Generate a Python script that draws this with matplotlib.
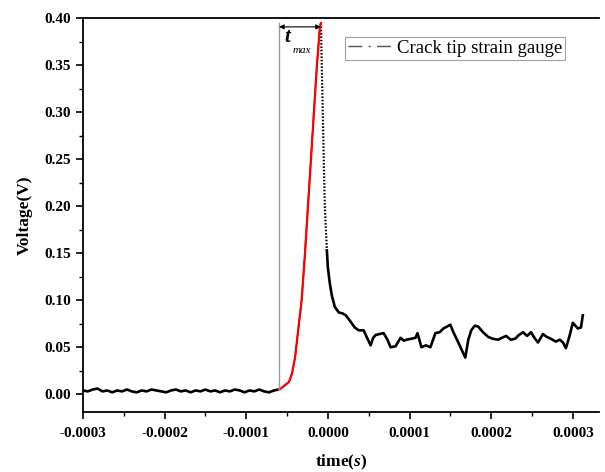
# crack tip strain gauge signal
import numpy as np
import matplotlib
matplotlib.use("Agg")
import matplotlib.pyplot as plt
from matplotlib.lines import Line2D
from matplotlib.ticker import MultipleLocator, FormatStrFormatter

plt.rcParams['font.family'] = ['Liberation Serif', 'DejaVu Serif']
plt.rcParams['mathtext.fontset'] = 'custom'
plt.rcParams['mathtext.it'] = 'Liberation Serif:italic:bold'
plt.rcParams['mathtext.rm'] = 'Liberation Serif:bold'

# time in units of 1e-4 s, voltage in V
base_time = [-3.00, -2.94, -2.88, -2.82, -2.76, -2.70, -2.64, -2.58, -2.52, -2.46,
             -2.40, -2.34, -2.28, -2.22, -2.16, -2.10, -2.04, -1.98, -1.92, -1.86,
             -1.80, -1.74, -1.68, -1.62, -1.56, -1.50, -1.44, -1.38, -1.32, -1.26,
             -1.20, -1.14, -1.08, -1.02, -0.96, -0.90, -0.84, -0.78, -0.72, -0.66,
             -0.60]
base_volt = [0.004, 0.003, 0.005, 0.006, 0.003, 0.004, 0.002, 0.004, 0.003, 0.005,
             0.003, 0.002, 0.004, 0.003, 0.005, 0.004, 0.003, 0.002, 0.004, 0.005,
             0.003, 0.004, 0.002, 0.004, 0.003, 0.005, 0.003, 0.004, 0.002, 0.004,
             0.003, 0.005, 0.004, 0.002, 0.004, 0.003, 0.005, 0.003, 0.002, 0.004,
             0.005]

rise_time = [-0.60, -0.577, -0.52, -0.476, -0.439, -0.402, -0.378, -0.345, -0.321,
             -0.280, -0.244, -0.207, -0.171, -0.134, -0.098, -0.085]
rise_volt = [0.005, 0.006, 0.010, 0.013, 0.022, 0.039, 0.057, 0.082, 0.100,
             0.150, 0.200, 0.250, 0.300, 0.350, 0.390, 0.395]

fall_time = [-0.085, -0.079, -0.073, -0.067, -0.061, -0.055, -0.049, -0.043, -0.037,
             -0.027, -0.018, -0.012, 0.000, 0.024, 0.049, 0.085, 0.134, 0.180, 0.220,
             0.280, 0.330, 0.378, 0.439, 0.480, 0.524, 0.555, 0.585, 0.630, 0.683,
             0.730, 0.768, 0.829, 0.890, 0.930, 0.963, 1.020, 1.073, 1.098, 1.146,
             1.200, 1.256, 1.317, 1.370, 1.415, 1.460, 1.500, 1.537, 1.598, 1.640,
             1.683, 1.720, 1.756, 1.800, 1.841, 1.900, 1.963, 2.020, 2.085, 2.130,
             2.183, 2.240, 2.293, 2.340, 2.390, 2.440, 2.488, 2.530, 2.573, 2.634,
             2.680, 2.732, 2.790, 2.841, 2.880, 2.915, 2.960, 3.000, 3.061, 3.100,
             3.122]
fall_volt = [0.395, 0.370, 0.345, 0.320, 0.295, 0.270, 0.245, 0.222, 0.200,
             0.180, 0.165, 0.153, 0.135, 0.118, 0.105, 0.093, 0.087, 0.086, 0.084,
             0.077, 0.071, 0.068, 0.068, 0.060, 0.052, 0.060, 0.063, 0.064, 0.065,
             0.058, 0.050, 0.051, 0.060, 0.057, 0.058, 0.059, 0.060, 0.065, 0.050,
             0.052, 0.050, 0.065, 0.066, 0.070, 0.072, 0.074, 0.066, 0.055, 0.047,
             0.039, 0.058, 0.068, 0.073, 0.072, 0.066, 0.061, 0.059, 0.058, 0.060,
             0.062, 0.058, 0.059, 0.063, 0.066, 0.062, 0.066, 0.060, 0.055, 0.064,
             0.061, 0.059, 0.056, 0.058, 0.055, 0.049, 0.062, 0.076, 0.070, 0.071,
             0.084]

t_start = -0.598
t_peak = -0.085
v_peak = 0.395

fig = plt.figure(figsize=(6.05, 4.72), dpi=100)
ax = fig.add_axes([0.137, 0.127, 0.853, 0.834])

scale = 1e-4
bt = np.array(base_time) * scale
rt = np.array(rise_time) * scale
ft = np.array(fall_time) * scale

ax.plot(bt, base_volt, color='black', lw=1.9)
ax.plot(rt, rise_volt, color='black', lw=1.0)
ax.plot(ft[:12], fall_volt[:12], color='black', lw=1.6, ls=(0, (0.7, 0.8)))
ax.plot(ft[11:], fall_volt[11:], color='black', lw=1.9)
ax.plot(rt, rise_volt, color='red', lw=1.6)

# t_max marker
ax.plot([t_start * scale, t_start * scale], [0.004, v_peak], color='#999999', lw=1.0)
ax.annotate('', xy=(t_start * scale, 0.391), xytext=(t_peak * scale, 0.391),
            arrowprops=dict(arrowstyle='<|-|>', color='black', lw=0.8,
                            mutation_scale=7, shrinkA=0, shrinkB=0))
ax.text(-0.50 * scale, 0.380, 't', fontsize=15, fontweight='bold', style='italic',
        ha='center', va='center')
ax.text(-0.32 * scale, 0.366, 'max', fontsize=8, style='italic', ha='center', va='center')

ax.set_xlim(-0.0003, 0.000332)
ax.set_ylim(-0.019, 0.40)

ax.xaxis.set_major_locator(MultipleLocator(0.0001))
ax.xaxis.set_minor_locator(MultipleLocator(0.00005))
ax.yaxis.set_major_locator(MultipleLocator(0.05))
ax.yaxis.set_minor_locator(MultipleLocator(0.025))
ax.xaxis.set_major_formatter(FormatStrFormatter('%.4f'))
ax.yaxis.set_major_formatter(FormatStrFormatter('%.2f'))
ax.tick_params(which='major', direction='out', length=5, width=1.2, labelsize=11)
ax.tick_params(axis='x', which='major', pad=6)
ax.tick_params(which='minor', direction='out', length=3, width=1.0)
for lab in ax.get_xticklabels() + ax.get_yticklabels():
    lab.set_fontweight('bold')

for side in ['left', 'bottom', 'top']:
    ax.spines[side].set_linewidth(1.3)
ax.spines['right'].set_visible(False)

ax.set_xlabel(r'time($\mathit{s}$)', fontsize=12.5, fontweight='bold', labelpad=9)
ax.set_ylabel('Voltage(V)', fontsize=12.5, fontweight='bold', labelpad=8)

handle = Line2D([], [], color='#555555', lw=1.0, ls=(0, (10, 4.5, 1.5, 4.5)))
leg = ax.legend([handle], ['Crack tip strain gauge'], loc='upper left',
                bbox_to_anchor=(0.508, 0.953), borderaxespad=0, fancybox=False,
                fontsize=13.5, handlelength=2.3, handletextpad=0.3,
                borderpad=0.15, edgecolor='#888888')
leg.get_frame().set_linewidth(0.8)

fig.savefig('out.png', dpi=100)
